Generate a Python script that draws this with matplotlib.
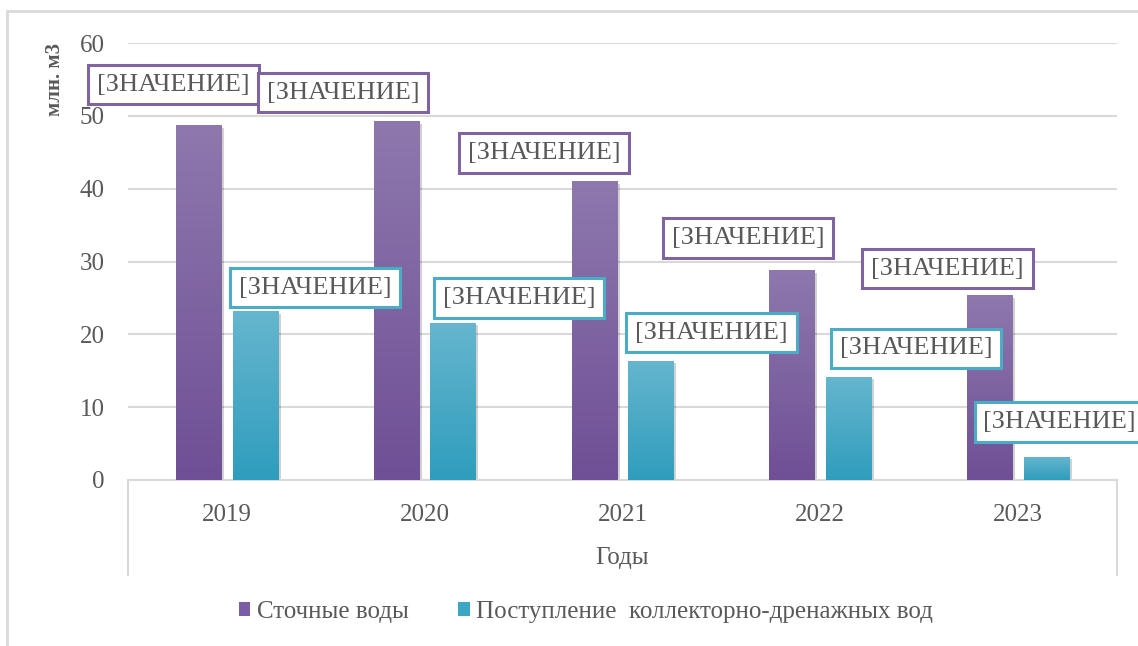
import numpy as np
import matplotlib
matplotlib.use("Agg")
import matplotlib.pyplot as plt
from matplotlib.colors import LinearSegmentedColormap
from matplotlib.patches import Rectangle, Patch
import matplotlib.patheffects as pe

# ---- data ----
years = ["2019", "2020", "2021", "2022", "2023"]
series_names = ["Сточные воды", "Поступление  коллекторно-дренажных вод"]
wastewater = [48.7, 49.3, 41.05, 28.8, 25.4]
drainage = [23.2, 21.6, 16.4, 14.2, 3.2]
label_text = "[ЗНАЧЕНИЕ]"
y_ticks = [0, 10, 20, 30, 40, 50, 60]
x_title = "Годы"
y_title = "млн. м3"

# label box centres (data coords) as placed in the original
lab_w_x = [-0.27, 0.587, 1.603, 2.634, 3.643]
lab_w_y = [54.3, 53.2, 44.9, 33.2, 29.0]
lab_d_x = [0.445, 1.479, 2.45, 3.484, 4.21]
lab_d_y = [26.4, 25.0, 20.25, 18.06, 7.96]

# ---- style ----
SERIF = "Liberation Serif"
plt.rcParams["font.family"] = SERIF
txt_col = "#595959"
grid_col = "#d9d9d9"
purple_edge = "#8064A2"
cyan_edge = "#4BACC6"
purple_grad = LinearSegmentedColormap.from_list("pg", ["#6F4F96", "#8E78AD"])
cyan_grad = LinearSegmentedColormap.from_list("cg", ["#2F9DBD", "#66B6CE"])

W, H = 1138, 646
fig = plt.figure(figsize=(W / 100, H / 100), dpi=100)
ax = fig.add_axes([128 / W, 1 - 480 / H, (1117 - 128) / W, (480 - 43) / H])

x = np.arange(len(years))
bw = 0.228
off = 0.143

ax.set_xlim(-0.5, len(years) - 0.5)
ax.set_ylim(0, 60)
ax.set_yticks(y_ticks)
ax.set_xticks(x)
ax.set_xticklabels(years, family=SERIF)
ax.set_yticklabels([str(v) for v in y_ticks], family=SERIF)
ax.yaxis.grid(True, color=grid_col, linewidth=1.5, zorder=0)
ax.set_axisbelow(True)
for s in ["left", "right", "top"]:
    ax.spines[s].set_visible(False)
ax.spines["bottom"].set_color(grid_col)
ax.spines["bottom"].set_linewidth(1.5)
ax.tick_params(axis="both", length=0, labelsize=18, colors=txt_col)
ax.tick_params(axis="x", pad=17)
ax.tick_params(axis="y", pad=17)

grad = np.linspace(0, 1, 256).reshape(-1, 1)
shadow = [pe.SimplePatchShadow(offset=(2, -2), shadow_rgbFace="#000000", alpha=0.18), pe.Normal()]

def grad_bars(xs, vals, cmap, mid):
    bars = ax.bar(xs, vals, bw, color=mid, zorder=2)
    for b in bars:
        b.set_path_effects(shadow)
        x0, y0 = b.get_x(), b.get_y()
        im = ax.imshow(grad, cmap=cmap, origin="lower", aspect="auto",
                       extent=[x0, x0 + b.get_width(), y0, y0 + b.get_height()],
                       zorder=3, interpolation="bilinear")
        im.set_clip_path(b)
    return bars

grad_bars(x - off, wastewater, purple_grad, "#7E62A3")
grad_bars(x + off, drainage, cyan_grad, "#48AAC6")
ax.set_xlim(-0.5, len(years) - 0.5)
ax.set_ylim(0, 60)

def labels(xs, ys, edge):
    for xx, yy in zip(xs, ys):
        ax.text(xx, yy, label_text, ha="center", va="center", fontsize=19,
                family=SERIF, color=txt_col, zorder=5, clip_on=False,
                bbox=dict(boxstyle="square,pad=0.33", facecolor="white",
                          edgecolor=edge, linewidth=2.2))

labels(lab_w_x, lab_w_y, purple_edge)
labels(lab_d_x, lab_d_y, cyan_edge)

# category-axis frame lines
for xx in (0.0, 1.0):
    ax.plot([xx, xx], [0, -(575 - 480) / (480 - 43)], transform=ax.transAxes,
            color=grid_col, linewidth=1.5, clip_on=False)

fig.text(622 / W, 1 - 558 / H, x_title, ha="center", va="center",
         fontsize=18, family=SERIF, color=txt_col)
fig.text(55 / W, 1 - 79 / H, y_title, ha="center", va="center", rotation=90,
         fontsize=15, fontweight="bold", family=SERIF, color=txt_col)

# outer chart border
fig.patches.append(Rectangle((7 / W, -0.05), 1.1, 1 - 11 / H + 0.05,
                             transform=fig.transFigure, fill=False,
                             edgecolor=grid_col, linewidth=2))

handles = [Patch(facecolor="#7B5DA5"), Patch(facecolor="#3DA6C4")]
leg = fig.legend(handles, series_names, loc="center", bbox_to_anchor=(586 / W, 1 - 612 / H),
                 ncol=2, frameon=False, handlelength=0.45, handleheight=0.45,
                 handletextpad=0.25, columnspacing=2.0, labelcolor=txt_col,
                 prop={"family": SERIF, "size": 18})

fig.savefig("out.png", dpi=100)
